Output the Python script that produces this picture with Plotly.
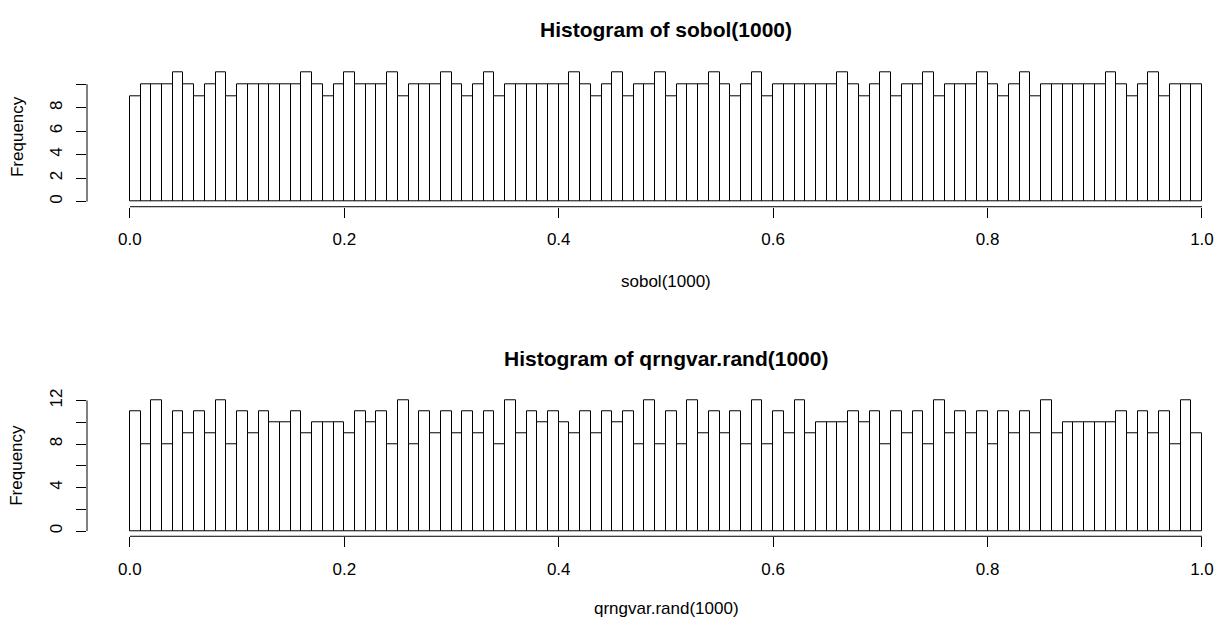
import numpy as np
import plotly.graph_objects as go

# ---- data ----
bin_edges = [round(i * 0.01, 2) for i in range(101)]

sobol_counts = [
    9, 10, 10, 10, 11, 10, 9, 10, 11, 9, 10, 10, 10, 10, 10, 10, 11, 10, 9, 10, 11, 10, 10, 10, 11,
    9, 10, 10, 10, 11, 10, 9, 10, 11, 9, 10, 10, 10, 10, 10, 10, 11, 10, 9, 10, 11, 9, 10, 10, 11,
    9, 10, 10, 10, 11, 10, 9, 10, 11, 9, 10, 10, 10, 10, 10, 10, 11, 10, 9, 10, 11, 9, 10, 10, 11,
    9, 10, 10, 10, 11, 10, 9, 10, 11, 9, 10, 10, 10, 10, 10, 10, 11, 10, 9, 10, 11, 9, 10, 10, 10,
]

qrng_counts = [
    11, 8, 12, 8, 11, 9, 11, 9, 12, 8, 11, 9, 11, 10, 10, 11, 9, 10, 10, 10, 9, 11, 10, 11, 8,
    12, 8, 11, 9, 11, 9, 11, 9, 11, 8, 12, 9, 11, 10, 11, 10, 9, 11, 9, 11, 10, 11, 8, 12, 8,
    11, 8, 12, 9, 11, 9, 11, 8, 12, 8, 11, 9, 12, 9, 10, 10, 10, 11, 10, 11, 8, 11, 9, 11, 8,
    12, 9, 11, 9, 11, 8, 11, 9, 11, 9, 12, 9, 10, 10, 10, 10, 10, 11, 9, 11, 9, 11, 8, 12, 9,
]

x_tickvals = [0.0, 0.2, 0.4, 0.6, 0.8, 1.0]
x_ticktext = ["0.0", "0.2", "0.4", "0.6", "0.8", "1.0"]
top_y_tickvals = [0, 2, 4, 6, 8, 10]
top_y_ticktext = ["0", "2", "4", "6", "8", ""]
bot_y_tickvals = [0, 2, 4, 6, 8, 10, 12]
bot_y_ticktext = ["0", "", "4", "", "8", "", "12"]

titles = ["Histogram of sobol(1000)", "Histogram of qrngvar.rand(1000)"]
xlabels = ["sobol(1000)", "qrngvar.rand(1000)"]
ylabel = "Frequency"

# ---- layout constants (pixels) ----
W, H = 1226, 621
FONT = "Liberation Sans, Arial, sans-serif"

def py(pix):  # pixel from top -> paper fraction from bottom
    return (H - pix) / H

edges = np.array(bin_edges)
centers = (edges[:-1] + edges[1:]) / 2
widths = np.diff(edges)

fig = go.Figure()
for counts, xa, ya in [(sobol_counts, "x", "y"), (qrng_counts, "x2", "y2")]:
    fig.add_trace(go.Bar(
        x=centers, y=counts, width=widths, xaxis=xa, yaxis=ya,
        marker=dict(color="white", line=dict(color="black", width=1)),
        hoverinfo="x+y", showlegend=False,
    ))

x_dom = [87 / W, 1.0]
x_rng = [-0.04, 1.0224]
top_max = max(sobol_counts)
bot_max = max(qrng_counts)

common_x = dict(domain=x_dom, range=x_rng, showgrid=False, zeroline=False, showline=False,
                ticks="outside", ticklen=10, tickwidth=1, tickcolor="black",
                tickvals=x_tickvals, ticktext=x_ticktext, ticklabelstandoff=7,
                tickfont=dict(family=FONT, size=17, color="black"), fixedrange=True)
common_y = dict(showgrid=False, zeroline=False, showline=False,
                ticks="outside", ticklen=10, tickwidth=1, tickcolor="black",
                tickangle=-90, ticklabelstandoff=7,
                tickfont=dict(family=FONT, size=17, color="black"), fixedrange=True)

fig.update_layout(
    width=W, height=H, margin=dict(l=0, r=0, t=0, b=0),
    paper_bgcolor="white", plot_bgcolor="white",
    bargap=0, barmode="overlay",
    xaxis=dict(anchor="y", **common_x),
    yaxis=dict(anchor="x", domain=[py(202), py(61)],
               range=[-0.04 * top_max, 1.04 * top_max],
               tickvals=top_y_tickvals, ticktext=top_y_ticktext, **common_y),
    xaxis2=dict(anchor="y2", **common_x),
    yaxis2=dict(anchor="x2", domain=[py(535.3), py(392.7)],
                range=[-0.04 * bot_max, 1.04 * bot_max],
                tickvals=bot_y_tickvals, ticktext=bot_y_ticktext, **common_y),
    font=dict(family=FONT, color="black"),
)

# axis lines spanning only the tick range (R style)
for xa, ya, yvals in [("x", "y", top_y_tickvals), ("x2", "y2", bot_y_tickvals)]:
    fig.add_shape(type="line", xref=xa, yref=f"{ya} domain",
                  x0=x_tickvals[0], x1=x_tickvals[-1], y0=0, y1=0,
                  line=dict(color="black", width=1))
    fig.add_shape(type="line", xref=f"{xa} domain", yref=ya,
                  x0=0, x1=0, y0=yvals[0], y1=yvals[-1],
                  line=dict(color="black", width=1))

cx = 666 / W
ann = []
for title, xl, ty, xy, fy in [(titles[0], xlabels[0], 23, 278, 131.5),
                              (titles[1], xlabels[1], 356, 608, 464)]:
    ann.append(dict(text=f"<b>{title}</b>", x=cx, y=py(ty), xref="paper", yref="paper",
                    showarrow=False, xanchor="center", yanchor="middle",
                    font=dict(family=FONT, size=21, color="black")))
    ann.append(dict(text=xl, x=cx, y=py(xy), xref="paper", yref="paper",
                    showarrow=False, xanchor="center", yanchor="middle",
                    font=dict(family=FONT, size=17, color="black")))
    ann.append(dict(text=ylabel, x=17 / W, y=py(fy), xref="paper", yref="paper",
                    showarrow=False, xanchor="center", yanchor="middle", textangle=-90,
                    font=dict(family=FONT, size=17, color="black")))
fig.update_layout(annotations=ann)

fig.write_html("out.html")
